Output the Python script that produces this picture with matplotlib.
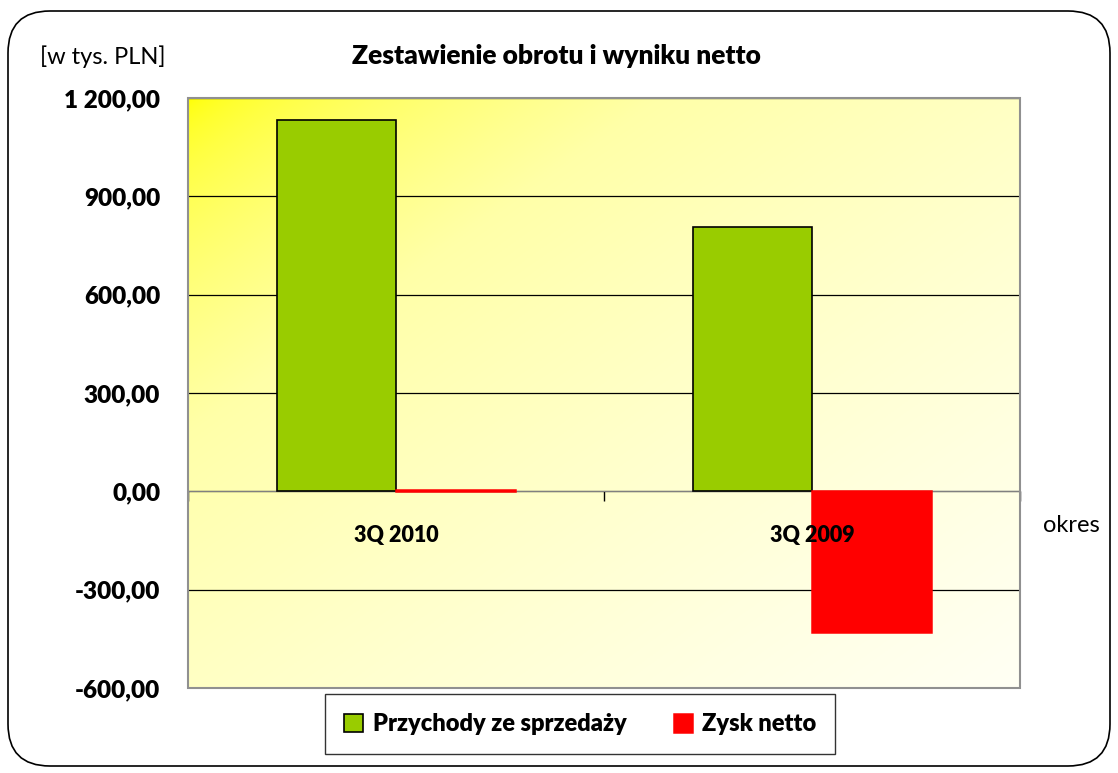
import numpy as np
import matplotlib
matplotlib.use("Agg")
import matplotlib.pyplot as plt
from matplotlib.patches import FancyBboxPatch, Rectangle
from matplotlib.colors import LinearSegmentedColormap

plt.rcParams["font.family"] = ["Lato", "DejaVu Sans"]

categories = ["3Q 2010", "3Q 2009"]
revenue = [1132, 806]
net_profit = [5, -430]
series_names = ["Przychody ze sprzedaży", "Zysk netto"]
y_ticks = [-600, -300, 0, 300, 600, 900, 1200]

BOLD = "heavy"


def fmt(v):
    s = f"{abs(v):,.2f}".replace(",", " ").replace(".", ",")
    return ("-" if v < 0 else "") + s


fig = plt.figure(figsize=(11.18, 7.73), dpi=100)

# rounded outer frame
frame = FancyBboxPatch((0.08, 0.07), 11.02, 7.55,
                       boxstyle="round,pad=0,rounding_size=0.42",
                       transform=fig.dpi_scale_trans, fill=False,
                       edgecolor="black", linewidth=1.2)
fig.patches.append(frame)

ax = fig.add_axes([0.1682, 0.11, 0.7441, 0.7632])
ax.set_xlim(-0.5, 1.5)
ax.set_ylim(-600, 1200)

# diagonal yellow -> white gradient background
gx, gy = np.meshgrid(np.linspace(0, 1, 300), np.linspace(0, 1, 300))
t = np.clip((gx + gy) / 2, 0, 1) ** 0.55
cmap = LinearSegmentedColormap.from_list("bg", ["#ffff00", "#ffffa8", "#fffff4"])
ax.imshow(t, cmap=cmap, extent=(0, 1, 0, 1), transform=ax.transAxes,
          aspect="auto", origin="upper", zorder=0, interpolation="bilinear")

x = np.arange(len(categories))
w = 0.287
ax.bar(x - w / 2, revenue, w, color="#99cc00", edgecolor="black",
       linewidth=1.2, zorder=3, label=series_names[0])
ax.bar(x + w / 2, net_profit, w, color="#ff0000", edgecolor="#ff0000",
       linewidth=1.8, zorder=3, label=series_names[1])

ax.set_yticks(y_ticks)
ax.set_yticklabels([fmt(v) for v in y_ticks], fontsize=17.5, fontweight=BOLD)
ax.tick_params(axis="y", length=0, pad=20)
ax.grid(axis="y", color="black", linewidth=0.9, zorder=1)
ax.set_axisbelow(True)

for side in ["top", "left", "right"]:
    ax.spines[side].set_visible(False)
ax.spines["bottom"].set_position(("data", 0))
ax.spines["bottom"].set_color("#808080")
ax.spines["bottom"].set_zorder(2)

ax.set_xticks(x)
ax.set_xticklabels([])
ax.tick_params(axis="x", which="major", length=0)
ax.set_xticks([-0.5, 0.5, 1.5], minor=True)
ax.tick_params(axis="x", which="minor", length=7, direction="out",
               color="black", width=1)

# category labels drawn above the bars, as in the original
for xi, name in zip(x, categories):
    ax.text(xi, -134, name, ha="center", va="center", fontsize=15.5,
            fontweight=BOLD, zorder=10)

ax.add_patch(Rectangle((0, 0), 1, 1, transform=ax.transAxes, fill=False,
                       edgecolor="#909090", linewidth=1.5, zorder=5,
                       clip_on=False))

fig.text(0.4975, 0.927, "Zestawienie obrotu i wyniku netto", ha="center",
         va="center", fontsize=19, fontweight=BOLD)
fig.text(0.148, 0.927, "[w tys. PLN]", ha="right", va="center", fontsize=17)
fig.text(0.958, 0.32, "okres", ha="center", va="center", fontsize=17)

leg = fig.legend(loc="center", bbox_to_anchor=(0.519, 0.063), ncol=2,
                 frameon=True, fancybox=False, handlelength=0.8,
                 handleheight=0.8, columnspacing=2.0, borderpad=0.8,
                 handletextpad=0.4, prop={"weight": BOLD, "size": 17})
leg.get_frame().set_edgecolor("black")
leg.get_frame().set_linewidth(1.0)

fig.savefig("out.png", dpi=100)
